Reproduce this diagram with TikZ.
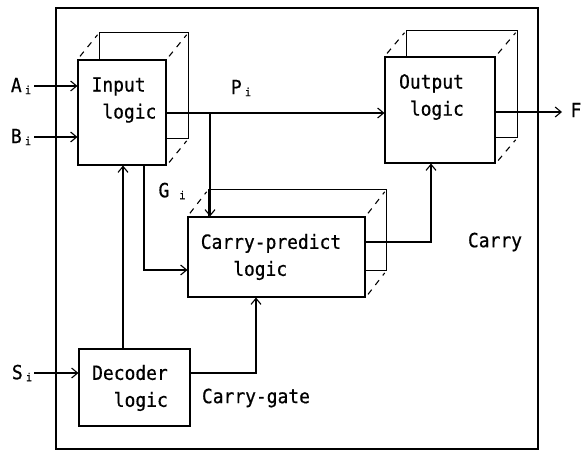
\documentclass[tikz,border=0pt]{standalone}
\usepackage{fontspec}
\newfontfamily\twfont[FakeBold=0.6,FakeStretch=0.92]{DejaVu Sans Mono}
\usetikzlibrary{arrows.meta,calc}
\newcommand\subi{\raisebox{-2pt}{\fontsize{11}{11}\selectfont i}}
\tikzset{
  blk/.style={draw,line width=1.1pt,rectangle,inner sep=0pt},
  txt/.style={font=\twfont\fontsize{19.5}{27}\selectfont,inner sep=0pt,align=left},
  lbl/.style={font=\twfont\fontsize{19.5}{27}\selectfont,inner sep=0pt},
  wire/.style={line width=1.1pt},
  arr/.style={line width=1.1pt,-{Straight Barb[length=6pt,width=10pt,line width=1.1pt]}},
  hid/.style={line width=1.1pt,dash pattern=on 6pt off 6pt,shorten <=4pt,shorten >=3pt},
}
\newcommand\backbox[3]{%
  \draw[wire] ($(#1.north west)+(#2,0)$) -- ($(#1.north west)+(#2,#3)$)
    -- ($(#1.north east)+(#2,#3)$) -- ($(#1.south east)+(#2,#3)$)
    -- ($(#1.south east)+(0,#3)$);
  \draw[hid] (#1.north west) -- ++(#2,#3);
  \draw[hid] (#1.north east) -- ++(#2,#3);
  \draw[hid] (#1.south east) -- ++(#2,#3);
}
\begin{document}
\begin{tikzpicture}[x=1pt,y=-1pt]
\useasboundingbox (0,0) rectangle (582,452);
\fill[white] (0,0) rectangle (582,452);
% frame
\node[blk,minimum width=482pt,minimum height=441pt] (frame) at (297,228.5) {};
% blocks
\node[blk,fill=white,minimum width=88pt,minimum height=105pt] (inp) at (122,112.5) {};
\node[blk,fill=white,minimum width=110pt,minimum height=106pt] (out) at (440,110) {};
\node[blk,fill=white,minimum width=177pt,minimum height=80pt] (cp) at (276.5,257) {};
\node[blk,fill=white,minimum width=111pt,minimum height=77pt] (dec) at (134.5,387.5) {};
\backbox{inp}{22}{-27}
\backbox{out}{22}{-26}
\backbox{cp}{21}{-27}
% texts
\node[txt] (inptxt) at (124,100) {Input\\\phantom{x}logic};
\node[txt] (outtxt) at (431.5,97) {Output\\\phantom{x}logic};
\node[txt] (cptxt) at (271,257) {Carry-predict\\\phantom{xxx}logic};
\node[txt] (dectxt) at (130,388) {Decoder\\\phantom{xx}logic};
% labels
\node[lbl] (ai) at (21,86) {A\,\subi};
\node[lbl] (bi) at (21,137) {B\,\subi};
\node[lbl] (si) at (22,373) {S\,\subi};
\node[lbl] (pi) at (241,88) {P\,\subi};
\node[lbl] (gi) at (172,191) {G\hspace{10pt}\subi};
\node[lbl] (f) at (576,110) {F};
\node[lbl] (carry) at (495,242) {Carry};
\node[lbl] (cg) at (256,398) {Carry-gate};
% coordinates
\coordinate (ain) at (34,86);
\coordinate (bin) at (34,137);
\coordinate (sin) at (34,373);
\coordinate (fout) at (562,112);
\coordinate (pbr) at (210,113);
% connectors
\draw[arr] (ain) -- (ain -| inp.west);
\draw[arr] (bin) -- (bin -| inp.west);
\draw[arr] (sin) -- (sin -| dec.west);
\draw[arr] (inp.east |- pbr) -- (out.west |- pbr);
\draw[arr] (pbr) -- (pbr |- cp.north);
\draw[arr] (inp.south -| 144,0) -- (144,270) -- (cp.west |- 0,270);
\draw[arr] (dec.north -| 123,0) -- (inp.south -| 123,0);
\draw[arr] (dec.east |- 0,373) -- (256,373) -- (cp.south -| 256,0);
\draw[arr] (cp.east |- 0,242) -- (431,242) -- (out.south -| 431,0);
\draw[arr] (out.east |- fout) -- (fout);
\end{tikzpicture}
\end{document}
